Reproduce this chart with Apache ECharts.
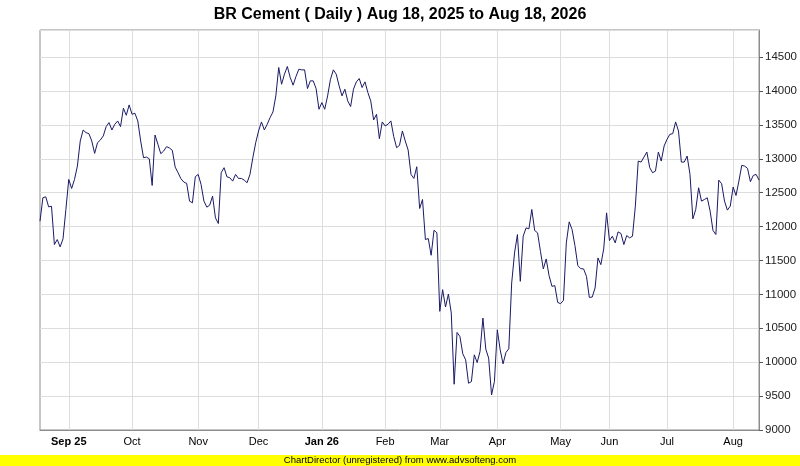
<!DOCTYPE html>
<html>
<head>
<meta charset="utf-8">
<script src="https://cdn.jsdelivr.net/npm/echarts@6/dist/echarts.min.js"></script>
<style>
  html, body { margin: 0; padding: 0; background: #ffffff; }
  #chart { width: 800px; height: 466px; }
</style>
</head>
<body>
<div id="chart"></div>
<script>
// ---- Data ----
const chartTitle = 'BR Cement ( Daily ) Aug 18, 2025 to Aug 18, 2026';
const monthNames = ['Aug', 'Sep 25', 'Oct', 'Nov', 'Dec', 'Jan 26', 'Feb', 'Mar', 'Apr', 'May', 'Jun', 'Jul', 'Aug'];
const tradingDays = [10, 22, 23, 21, 22, 22, 19, 20, 22, 17, 20, 23, 10];
const yTicks = [9000, 9500, 10000, 10500, 11000, 11500, 12000, 12500, 13000, 13500, 14000, 14500];
const closePrices = [
  12080, 12425, 12440, 12292, 12300, 11735, 11809, 11701, 11819, 12253,
  12696, 12563, 12696, 12893, 13263, 13425, 13386, 13371, 13263, 13080,
  13238, 13278, 13337, 13475, 13534, 13425, 13509, 13558, 13475, 13746,
  13642, 13795, 13657, 13672, 13558, 13263, 13016, 13026, 13000, 12607,
  13351, 13214, 13076, 13115, 13179, 13160, 13125, 12878, 12795, 12706,
  12657, 12637, 12376, 12351, 12736, 12770, 12622, 12376, 12287, 12316,
  12450, 12129, 12045, 12795, 12869, 12735, 12720, 12671, 12770, 12711,
  12711, 12686, 12647, 12770, 13016, 13238, 13411, 13544, 13425, 13509,
  13608, 13691, 13928, 14347, 14100, 14248, 14362, 14199, 14086, 14214,
  14322, 14312, 14312, 14036, 14150, 14150, 14036, 13731, 13830, 13731,
  13928, 14174, 14312, 14248, 14076, 13928, 14027, 13854, 13771, 14027,
  14135, 14184, 14051, 14135, 13977, 13854, 13573, 13657, 13297, 13544,
  13485, 13510, 13559, 13327, 13164, 13199, 13411, 13263, 13130, 12770,
  12711, 12883, 12267, 12400, 11809, 11824, 11577, 11947, 11908, 10750,
  11070, 10814, 11006, 10725, 9675, 10439, 10380, 10124, 10035, 9690,
  9714, 10109, 9995, 10158, 10651, 10193, 10060, 9517, 9714, 10478,
  10183, 9976, 10143, 10198, 11168, 11612, 11883, 11193, 11858, 11981,
  11967, 12253, 11942, 11908, 11636, 11376, 11523, 11277, 11119, 11129,
  10882, 10863, 10912, 11760, 12070, 11957, 11720, 11425, 11380, 11376,
  11267, 10956, 10961, 11095, 11538, 11439, 11670, 12203, 11794, 11858,
  11760, 11922, 11898, 11735, 11868, 11834, 11858, 12302, 12967, 12952,
  13026, 13100, 12869, 12795, 12819, 13100, 12967, 13189, 13287, 13361,
  13371, 13544, 13411, 12952, 12952, 13041, 12770, 12115, 12253, 12573,
  12376, 12400, 12425, 12228, 11942, 11883, 12686, 12632, 12376, 12243,
  12302, 12583, 12459, 12671, 12903, 12893, 12859, 12662, 12755, 12770,
  12686
];

// ---- Build category axis (one category per trading day) ----
const categories = [];
const monthStartLabel = {};
tradingDays.forEach(function (n, m) {
  for (let d = 0; d < n; d++) {
    const key = 'm' + m + 'd' + d;
    if (d === 0 && m > 0) monthStartLabel[key] = monthNames[m];
    categories.push(key);
  }
});
const isMonthStart = function (index, value) {
  return Object.prototype.hasOwnProperty.call(monthStartLabel, value);
};

const FONT = '"Liberation Sans", Arial, sans-serif';
const chart = echarts.init(document.getElementById('chart'), null, { renderer: 'canvas' });
chart.setOption({
  animation: false,
  backgroundColor: '#ffffff',
  title: {
    text: chartTitle,
    left: 'center',
    top: 2,
    textStyle: { fontFamily: FONT, fontWeight: 'bold', fontSize: 16, color: '#000000' }
  },
  grid: {
    left: 40, right: 40, top: 30, bottom: 36,
    show: true, borderColor: '#8c8c8c', borderWidth: 1, backgroundColor: '#ffffff'
  },
  xAxis: {
    type: 'category',
    data: categories,
    boundaryGap: false,
    axisLine: { show: true, lineStyle: { color: '#8c8c8c', width: 1 } },
    axisTick: { show: false },
    axisLabel: {
      interval: isMonthStart,
      margin: 6,
      fontFamily: FONT,
      fontSize: 11,
      color: '#000000',
      formatter: function (value) {
        const t = monthStartLabel[value] || '';
        return /\d/.test(t) ? '{b|' + t + '}' : t;
      },
      rich: { b: { fontFamily: FONT, fontSize: 11, fontWeight: 'bold', color: '#000000' } }
    },
    splitLine: { show: true, interval: isMonthStart, lineStyle: { color: '#dddddd', width: 1 } }
  },
  yAxis: {
    type: 'value',
    position: 'right',
    min: yTicks[0],
    max: 14900,
    interval: yTicks[1] - yTicks[0],
    axisLine: { show: true, lineStyle: { color: '#8c8c8c', width: 1 } },
    axisTick: { show: true, length: 4, lineStyle: { color: '#555555' } },
    axisLabel: {
      margin: 6,
      fontFamily: FONT,
      fontSize: 11.5,
      color: '#222222',
      showMaxLabel: false,
      formatter: function (v) { return yTicks.indexOf(v) >= 0 ? String(v) : ''; }
    },
    splitLine: { show: true, lineStyle: { color: '#dddddd', width: 1 } }
  },
  series: [{
    type: 'line',
    data: closePrices,
    showSymbol: false,
    smooth: false,
    lineStyle: { color: '#1a1a66', width: 1 },
    itemStyle: { color: '#1a1a66' }
  }],
  graphic: [
    {
      type: 'rect',
      shape: { x: 0, y: 455, width: 800, height: 11 },
      style: { fill: '#ffff00' },
      silent: true
    },
    {
      type: 'text',
      x: 400, y: 460.5,
      style: {
        text: 'ChartDirector (unregistered) from www.advsofteng.com',
        fontFamily: FONT, fontSize: 9.5, fill: '#000000',
        textAlign: 'center', textVerticalAlign: 'middle'
      },
      silent: true
    }
  ]
});
</script>
</body>
</html>
